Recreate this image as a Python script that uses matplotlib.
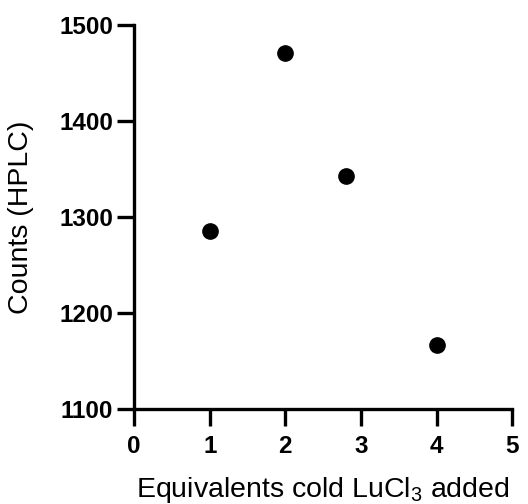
import matplotlib
matplotlib.use('Agg')
import matplotlib.pyplot as plt

equiv = [1, 2, 2.8, 4]
counts = [1285, 1471, 1342, 1167]
xticks = [0, 1, 2, 3, 4, 5]
yticks = [1100, 1200, 1300, 1400, 1500]

plt.rcParams['font.family'] = ['Liberation Sans', 'DejaVu Sans']
plt.rcParams['mathtext.fontset'] = 'custom'
plt.rcParams['mathtext.rm'] = 'Liberation Sans'
plt.rcParams['mathtext.it'] = 'Liberation Sans'

fig = plt.figure(figsize=(5.28, 5.04), dpi=100)
ax = fig.add_axes([0.254, 0.1885, 0.716, 0.7625])

ax.plot(equiv, counts, 'o', color='black', markersize=11, clip_on=False)

ax.set_xlim(0, 5)
ax.set_ylim(1100, 1500)
ax.set_xticks(xticks)
ax.set_yticks(yticks)

for s in ['top', 'right']:
    ax.spines[s].set_visible(False)
for s in ['left', 'bottom']:
    ax.spines[s].set_linewidth(2.4)

ax.tick_params(axis='both', length=12, width=2.4, labelsize=17.5)
ax.tick_params(axis='x', pad=7)
ax.tick_params(axis='y', pad=3)
for lab in ax.get_xticklabels() + ax.get_yticklabels():
    lab.set_fontweight('bold')

ax.set_xlabel(r'Equivalents cold LuCl$_3$ added', fontsize=20.5)
ax.set_ylabel('Counts (HPLC)', fontsize=20.5)
ax.xaxis.set_label_coords(0.5, -0.172)
ax.yaxis.set_label_coords(-0.265, 0.5)

fig.savefig('out.png', dpi=100)
